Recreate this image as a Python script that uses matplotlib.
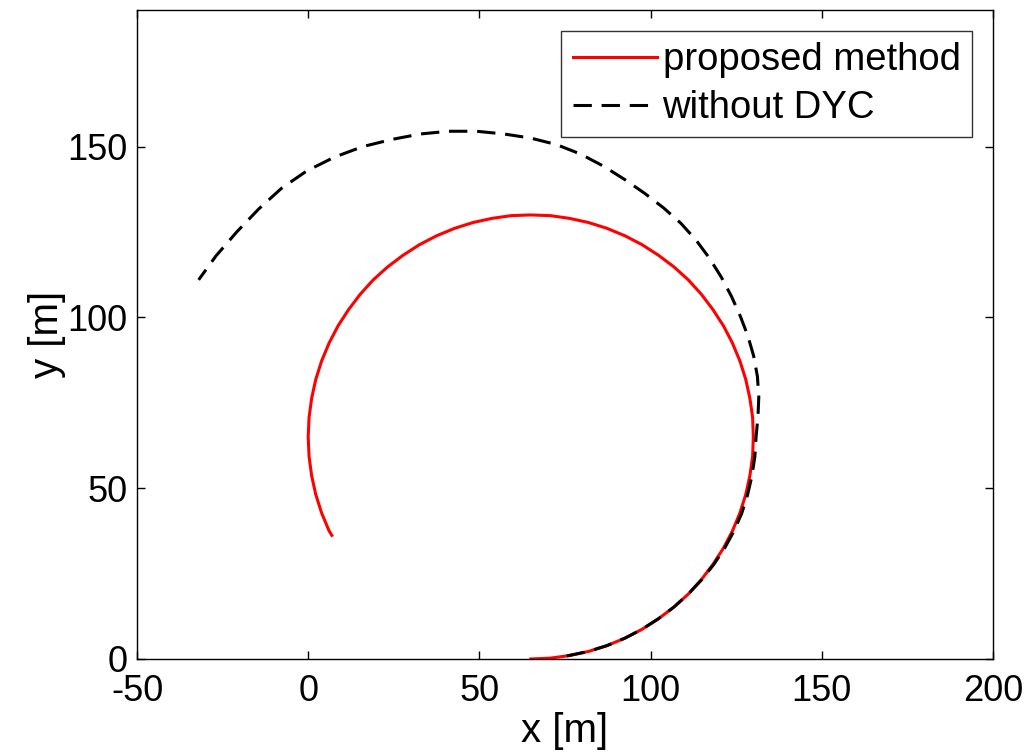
import matplotlib
matplotlib.use("Agg")
import matplotlib.pyplot as plt

plt.rcParams['font.family'] = ['Liberation Sans', 'DejaVu Sans']
plt.rcParams['axes.unicode_minus'] = False

# ── data ──────────────────────────────────────────────────────────────────────
# proposed method (red, solid)
prop_x = [65.0, 70.7, 76.3, 81.8, 87.2, 92.5, 97.5, 102.3, 106.8, 111.0,
          114.8, 118.2, 121.3, 123.9, 126.1, 127.8, 129.0, 129.8, 130.0, 129.8,
          129.0, 127.8, 126.1, 123.9, 121.3, 118.2, 114.8, 111.0, 106.8, 102.3,
          97.5, 92.5, 87.2, 81.8, 76.3, 70.7, 65.0, 59.3, 53.7, 48.2,
          42.8, 37.5, 32.5, 27.7, 23.2, 19.0, 15.2, 11.8, 8.7, 6.1,
          3.9, 2.2, 1.0, 0.25, 0.0, 0.25, 1.0, 2.2, 3.9, 6.1, 6.9]
prop_y = [0.0, 0.25, 1.0, 2.2, 3.9, 6.1, 8.7, 11.8, 15.2, 19.0,
          23.2, 27.7, 32.5, 37.5, 42.8, 48.2, 53.7, 59.3, 65.0, 70.7,
          76.3, 81.8, 87.2, 92.5, 97.5, 102.3, 106.8, 111.0, 114.8, 118.2,
          121.3, 123.9, 126.1, 127.8, 129.0, 129.8, 130.0, 129.8, 129.0, 127.8,
          126.1, 123.9, 121.3, 118.2, 114.8, 111.0, 106.8, 102.3, 97.5, 92.5,
          87.2, 81.8, 76.3, 70.7, 65.0, 59.3, 53.7, 48.2, 42.8, 37.5, 36.2]

# without DYC (black, dashed)
nodyc_x = [75.5, 81.8, 87.2, 92.5, 97.5, 102.3, 106.8, 111.0, 114.9, 118.4,
           121.6, 124.3, 126.6, 128.3, 129.6, 130.45, 130.8, 131.35, 131.6, 131.2,
           130.1, 128.4, 126.2, 123.65, 120.7, 117.25, 113.3, 108.8, 103.75, 98.3,
           92.4, 86.2, 79.6, 72.5, 65.0, 57.2, 49.2, 41.0, 32.7, 24.4,
           15.9, 7.6, -0.4, -7.8, -14.5, -20.8, -26.9, -32.0]
nodyc_y = [0.9, 2.2, 3.9, 6.1, 8.7, 11.8, 15.2, 19.0, 23.2, 27.6,
           32.4, 37.4, 42.6, 48.0, 53.6, 59.3, 65.0, 70.8, 76.7, 82.7,
           88.7, 94.6, 100.35, 106.1, 111.7, 117.25, 122.6, 127.6, 132.1, 136.3,
           140.4, 144.3, 147.8, 150.6, 152.5, 153.7, 154.5, 154.5, 153.7, 152.1,
           150.0, 146.9, 142.9, 137.8, 131.7, 125.1, 118.05, 111.0]

x_ticks = [-50, 0, 50, 100, 150, 200]
y_ticks = [0, 50, 100, 150]

# ── plot ──────────────────────────────────────────────────────────────────────
fig = plt.figure(figsize=(10.27, 7.54), dpi=100)
ax = fig.add_axes([137 / 1027, 1 - 659 / 754, 856 / 1027, 649 / 754])

ax.plot(prop_x, prop_y, color='red', lw=2.2, label='proposed method')
ax.plot(nodyc_x, nodyc_y, color='black', lw=2.2, dashes=(6.0, 3.2),
        label='without DYC')

ax.set_xlim(-50, 200)
ax.set_ylim(0, 190)
ax.set_xticks(x_ticks)
ax.set_yticks(y_ticks)
ax.tick_params(direction='in', length=6, width=1, labelsize=26,
               top=True, right=True)
ax.tick_params(axis='x', pad=11)
ax.tick_params(axis='y', pad=7)
for s in ax.spines.values():
    s.set_linewidth(1.0)

ax.set_xlabel('x [m]', fontsize=29, labelpad=2)
ax.set_ylabel('y [m]', fontsize=29, labelpad=1)

leg = ax.legend(loc='upper right', fontsize=27.5, frameon=True, fancybox=False,
                handlelength=2.2, handletextpad=0.15, borderpad=0.3,
                labelspacing=0.3, borderaxespad=0.55)
leg.get_frame().set_edgecolor('black')
leg.get_frame().set_linewidth(1.0)

fig.savefig('out.png', dpi=100)
